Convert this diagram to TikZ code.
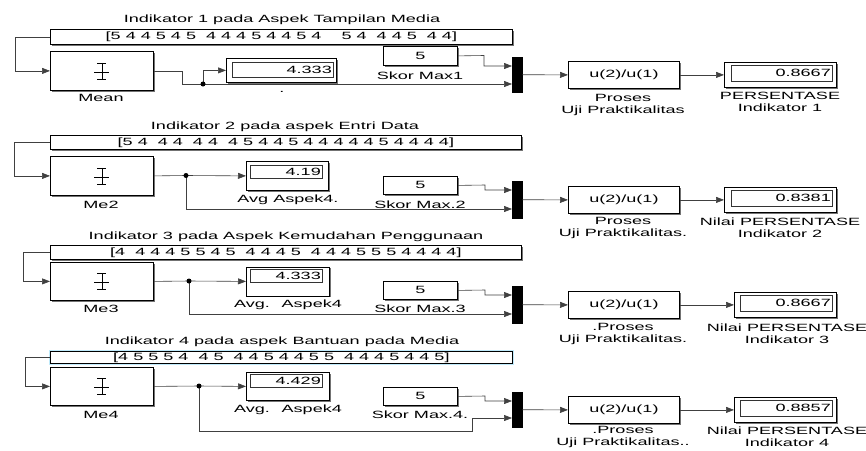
\documentclass[tikz,border=0pt]{standalone}
\usepackage{fontspec}
\setmainfont[FakeStretch=1.72]{Liberation Sans}
\usetikzlibrary{arrows.meta,shadows}
\newcommand\meanicon[1]{%
  \begin{scope}[shift={(#1.center)}]
    \draw[line width=0.7pt] (0,-8) -- (0,8) (-4.5,-8) -- (4.5,-8) (-4.5,8) -- (4.5,8) (-7.5,1) -- (7.5,1);
  \end{scope}}
\begin{document}
\begin{tikzpicture}[x=1pt,y=-1pt,
  font=\fontsize{10.5}{12}\selectfont,
  blk/.style={draw=black, line width=0.8pt, fill=white, inner sep=0pt, anchor=north west,
    drop shadow={shadow xshift=1.3pt,shadow yshift=-1.3pt,fill=black!55,opacity=1}},
  muxs/.style={fill=black, draw=black, inner sep=0pt, anchor=north west, minimum width=10pt},
  lbl/.style={inner sep=0pt, align=center},
  wire/.style={draw=black!75, line width=0.6pt},
  arr/.style={wire, -{Triangle[length=8pt,width=6pt]}},
  jdot/.style={circle, fill=black, inner sep=0pt, minimum size=5pt},
  valbox/.style={draw=black!80, line width=0.5pt, fill=white, inner sep=0pt, anchor=north west},
  valtxt/.style={anchor=east, inner sep=1.5pt}]
\useasboundingbox (0,0) rectangle (866,450);
\fill[white] (0,0) rectangle (866,450);

% ---------------- Row 1 ----------------
\node[lbl] (t1) at (282,20) {Indikator 1 pada Aspek Tampilan Media};
\node[blk, minimum width=462pt, minimum height=15pt] (c1) at (50,29) {[5 4 4 5 4 5~ 4 4 4 5 4 4 5 4~~~ 5 4~ 4 4 5~ 4 4]};
\node[blk, minimum width=103pt, minimum height=39pt] (m1) at (50,51) {};
\meanicon{m1}
\node[lbl] (m1l) at (101,98) {Mean};
\node[blk, minimum width=110pt, minimum height=24pt] (d1) at (226,58) {};
\node[valbox, minimum width=101pt, minimum height=15pt] (d1v) at (232,62) {};
\node[valtxt] (d1t) at (d1v.east) {4.333};
\node[lbl] (d1l) at (282,92) {.};
\node[blk, minimum width=74pt, minimum height=19pt] (s1) at (383,46) {5};
\node[lbl] (s1l) at (420,76) {Skor Max1};
\node[muxs, minimum height=35pt] (x1) at (512,57) {};
\coordinate (x1a) at (512,66);
\coordinate (x1b) at (512,84);
\node[blk, minimum width=111pt, minimum height=27pt] (f1) at (568,61) {u(2)/u(1)};
\node[lbl] (f1l) at (623,105) {Proses\\Uji Praktikalitas};
\node[blk, minimum width=112pt, minimum height=25pt] (p1) at (724,62) {};
\node[valbox, minimum width=101pt, minimum height=16pt] (p1v) at (731,65) {};
\node[valtxt] (p1t) at (p1v.east) {0.8667};
\node[lbl] (p1l) at (780,102) {PERSENTASE\\Indikator 1};
\coordinate (j1) at (203,84);
\draw[arr] (c1.west) -- ++(-35,0) |- (m1.west);
\draw[wire] (m1.east) -| (182,84) -- (j1);
\draw[arr] (j1) |- (d1.west);
\draw[arr] (j1) -- (x1b);
\node[jdot] (j1d) at (j1) {};
\draw[arr] (s1.east) -- (484,55.5) |- (x1a);
\draw[arr] (x1.east) -- (f1.west);
\draw[arr] (f1.east) -- (p1.west);

% ---------------- Row 2 ----------------
\node[lbl] (t2) at (285,127) {Indikator 2 pada aspek Entri Data};
\node[blk, minimum width=471pt, minimum height=14pt] (c2) at (50,135) {[5 4~ 4 4~ 4 4~ 4 5 4 4 5 4 4 4 4 4 5 4 4 4 4]};
\node[blk, minimum width=103pt, minimum height=39pt] (m2) at (50,156) {};
\meanicon{m2}
\node[lbl] (m2l) at (101,205) {Me2};
\node[blk, minimum width=82pt, minimum height=29pt] (d2) at (246,161) {};
\node[valbox, minimum width=72pt, minimum height=13pt] (d2v) at (250,165) {};
\node[valtxt] (d2t) at (d2v.east) {4.19};
\node[lbl] (d2l) at (288,200) {Avg Aspek4.};
\node[blk, minimum width=74pt, minimum height=18pt] (s2) at (383,176) {5};
\node[lbl] (s2l) at (420,205) {Skor Max.2};
\node[muxs, minimum height=37pt] (x2) at (512,181) {};
\coordinate (x2a) at (512,190);
\coordinate (x2b) at (512,209);
\node[blk, minimum width=111pt, minimum height=27pt] (f2) at (568,186) {u(2)/u(1)};
\node[lbl] (f2l) at (623,228) {Proses\\Uji Praktikalitas.};
\node[blk, minimum width=112pt, minimum height=25pt] (p2) at (724,187) {};
\node[valbox, minimum width=101pt, minimum height=16pt] (p2v) at (731,190) {};
\node[valtxt] (p2t) at (p2v.east) {0.8381};
\node[lbl] (p2l) at (780,228) {Nilai PERSENTASE\\Indikator 2};
\coordinate (j2) at (186,175.5);
\draw[arr] (c2.west) -- ++(-36,0) |- (m2.west);
\draw[wire] (m2.east) -- (j2);
\draw[arr] (j2) -- (d2.west);
\draw[arr] (j2) |- (x2b);
\node[jdot] (j2d) at (j2) {};
\draw[arr] (s2.east) -- (485,185) |- (x2a);
\draw[arr] (x2.east) -- (f2.west);
\draw[arr] (f2.east) -- (p2.west);

% ---------------- Row 3 ----------------
\node[lbl] (t3) at (286,237) {Indikator 3 pada Aspek Kemudahan Penggunaan};
\node[blk, minimum width=471pt, minimum height=14pt] (c3) at (50,245) {[4~ 4 4 4 5 5 4 5~ 4 4 4 5~ 4 4 4 5 5 5 4 4 4 4]};
\node[blk, minimum width=103pt, minimum height=38pt] (m3) at (50,262) {};
\meanicon{m3}
\node[lbl] (m3l) at (101,309) {Me3};
\node[blk, minimum width=83pt, minimum height=29pt] (d3) at (246,266.5) {};
\node[valbox, minimum width=72pt, minimum height=13pt] (d3v) at (250,269) {};
\node[valtxt] (d3t) at (d3v.east) {4.333};
\node[lbl] (d3l) at (288,305) {Avg.~ Aspek4};
\node[blk, minimum width=74pt, minimum height=18pt] (s3) at (383,281) {5};
\node[lbl] (s3l) at (420,309) {Skor Max.3};
\node[muxs, minimum height=37pt] (x3) at (512,286) {};
\coordinate (x3a) at (512,295);
\coordinate (x3b) at (512,314);
\node[blk, minimum width=111pt, minimum height=27pt] (f3) at (568,291) {u(2)/u(1)};
\node[lbl] (f3l) at (623,334) {.Proses\\Uji Praktikalitas.};
\node[blk, minimum width=102pt, minimum height=25pt] (p3) at (734,292) {};
\node[valbox, minimum width=92pt, minimum height=16pt] (p3v) at (740,295) {};
\node[valtxt] (p3t) at (p3v.east) {0.8667};
\node[lbl] (p3l) at (787,334) {Nilai PERSENTASE\\Indikator 3};
\coordinate (j3) at (189,281);
\draw[arr] (c3.west) -- ++(-27,0) |- (m3.west);
\draw[wire] (m3.east) -- (j3);
\draw[arr] (j3) -- (d3.west);
\draw[arr] (j3) |- (x3b);
\node[jdot] (j3d) at (j3) {};
\draw[arr] (s3.east) -- (485,290) |- (x3a);
\draw[arr] (x3.east) -- (f3.west);
\draw[arr] (f3.east) -- (p3.west);

% ---------------- Row 4 ----------------
\node[lbl] (t4) at (282,342) {Indikator 4 pada aspek Bantuan pada Media};
\node[blk, minimum width=462pt, minimum height=12pt, preaction={draw=cyan!25, line width=3pt}] (c4) at (50,351) {[4 5 5 5 4~ 4 5~ 4 4 5 4 4 5 5~ 4 4 4 5 4 4 5]};
\node[blk, minimum width=103pt, minimum height=38pt] (m4) at (50,367) {};
\meanicon{m4}
\node[lbl] (m4l) at (101,415) {Me4};
\node[blk, minimum width=83pt, minimum height=28pt] (d4) at (246,372) {};
\node[valbox, minimum width=72pt, minimum height=13pt] (d4v) at (250,374) {};
\node[valtxt] (d4t) at (d4v.east) {4.429};
\node[lbl] (d4l) at (288,410) {Avg.~ Aspek4};
\node[blk, minimum width=74pt, minimum height=18pt] (s4) at (383,387) {5};
\node[lbl] (s4l) at (420,415) {Skor Max.4.};
\node[muxs, minimum height=35pt] (x4) at (512,392) {};
\coordinate (x4a) at (512,401);
\coordinate (x4b) at (512,418);
\node[blk, minimum width=111pt, minimum height=27pt] (f4) at (568,396) {u(2)/u(1)};
\node[lbl] (f4l) at (623,437) {.Proses\\Uji Praktikalitas..};
\node[blk, minimum width=102pt, minimum height=25pt] (p4) at (734,397) {};
\node[valbox, minimum width=92pt, minimum height=16pt] (p4v) at (740,400) {};
\node[valtxt] (p4t) at (p4v.east) {0.8857};
\node[lbl] (p4l) at (787,437) {Nilai PERSENTASE\\Indikator 4};
\coordinate (j4) at (199,386);
\draw[arr] (c4.west) -- ++(-25,0) |- (m4.west);
\draw[wire] (m4.east) -- (j4);
\draw[arr] (j4) -- (d4.west);
\draw[arr] (j4) |- (472,431) |- (x4b);
\node[jdot] (j4d) at (j4) {};
\draw[arr] (s4.east) -- (485,396) |- (x4a);
\draw[arr] (x4.east) -- (f4.west);
\draw[arr] (f4.east) -- (p4.west);
\end{tikzpicture}
\end{document}
